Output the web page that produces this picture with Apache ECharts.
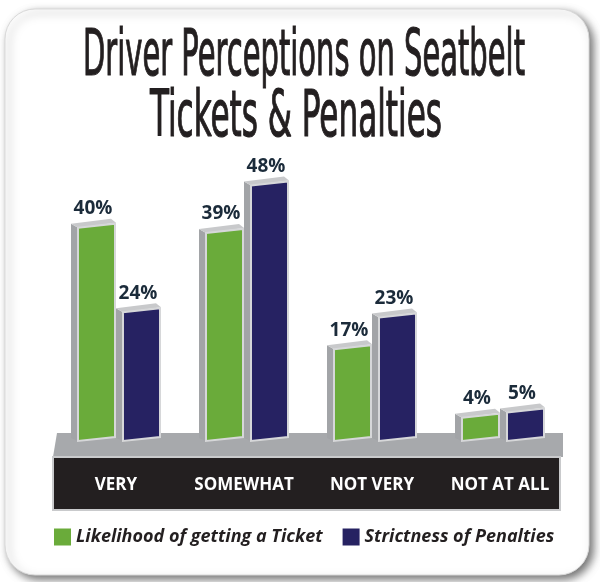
<!DOCTYPE html>
<html>
<head>
<meta charset="utf-8">
<script src="https://cdn.jsdelivr.net/npm/echarts@6/dist/echarts.min.js"></script>
<style>
  html, body { margin: 0; padding: 0; background: #fff; }
  #chart { width: 600px; height: 582px; }
</style>
</head>
<body>
<div id="chart"></div>
<script>
  // data
  var categories = ['VERY', 'SOMEWHAT', 'NOT VERY', 'NOT AT ALL'];
  var likelihood = [40, 39, 17, 4];
  var strictness = [24, 48, 23, 5];
  var seriesNames = ['Likelihood of getting a Ticket', 'Strictness of Penalties'];
  var titleLines = ['Driver Perceptions on Seatbelt', 'Tickets & Penalties'];

  var GREEN = '#6aab3a';
  var NAVY = '#262262';
  var titleFont = '64px "Liberation Sans Narrow", "DejaVu Sans Condensed", sans-serif';

  // squeeze the title into the condensed look of the original
  function fitScale(text, target) {
    var ctx = document.createElement('canvas').getContext('2d');
    ctx.font = titleFont;
    return target / ctx.measureText(text).width;
  }

  function toData(arr) {
    return arr.map(function (v, i) { return [i, v]; });
  }

  // 3d-ish bar: grey side + grey top + coloured front, label above
  function renderBar(params, api) {
    var idx = api.value(0);
    var v = api.value(1);
    var base = api.coord([idx, 0]);
    var top = api.coord([idx, v]);
    var c = base[0];
    var L = c + (params.seriesIndex === 0 ? -38 : 7);
    var R = L + 37;
    var yB = base[1], yT = top[1];
    var color = params.seriesIndex === 0 ? GREEN : NAVY;
    return {
      type: 'group',
      children: [
        { type: 'polygon', shape: { points: [[L - 7, yT - 3], [L, yT + 1], [L, yB + 3], [L - 7, yB]] },
          style: { fill: '#a2a4a7' } },
        { type: 'polygon', shape: { points: [[L - 7, yT - 3], [R - 4, yT - 8], [R + 1, yT - 4], [L, yT + 1]] },
          style: { fill: '#c8c9cb' } },
        { type: 'polygon', shape: { points: [[L, yT + 1], [R, yT - 3], [R, yB - 1], [L, yB + 3]] },
          style: { fill: color, stroke: '#d6d7d9', lineWidth: 2 } },
        { type: 'text', x: (L - 7 + R) / 2, y: yT - 18,
          style: { text: v + '%', font: 'bold 19px "Open Sans", sans-serif', fill: '#1b2b3a',
            align: 'center', verticalAlign: 'middle' } }
      ]
    };
  }

  var myChart = echarts.init(document.getElementById('chart'));
  var option = {
    backgroundColor: '#ffffff',
    animation: false,
    grid: { left: 52, right: 36, top: 121, bottom: 144 },
    graphic: [
      { type: 'rect', z: 0, shape: { x: 5, y: 9, width: 584, height: 566, r: 30 },
        style: { fill: '#fff', stroke: '#d9d9d9', lineWidth: 1, shadowBlur: 8, shadowOffsetX: 4,
          shadowOffsetY: 4, shadowColor: 'rgba(0,0,0,0.55)' } },
      { type: 'text', z: 1, x: 304, y: 58, scaleX: fitScale(titleLines[0], 442),
        style: { text: titleLines[0], font: titleFont, fill: '#231f20', stroke: '#231f20', lineWidth: 1.2,
          align: 'center', verticalAlign: 'middle' } },
      { type: 'text', z: 1, x: 296, y: 119, scaleX: fitScale(titleLines[1], 292),
        style: { text: titleLines[1], font: titleFont, fill: '#231f20', stroke: '#231f20', lineWidth: 1.2,
          align: 'center', verticalAlign: 'middle' } },
      { type: 'polygon', z: 1, shape: { points: [[57, 433], [563, 433], [563, 457], [53, 457]] },
        style: { fill: '#a7a9ac' } },
      { type: 'rect', z: 1, shape: { x: 53, y: 457, width: 507, height: 53 },
        style: { fill: '#231f20', stroke: '#c9cacc', lineWidth: 2 } }
    ],
    legend: {
      data: seriesNames,
      left: 54,
      top: 528,
      padding: 0,
      icon: 'rect',
      itemWidth: 17,
      itemHeight: 17,
      itemGap: 20,
      textStyle: { fontFamily: '"Open Sans", sans-serif', fontStyle: 'italic', fontWeight: 'bold',
        fontSize: 18, color: '#231f20' }
    },
    xAxis: {
      type: 'category',
      data: categories,
      z: 10,
      axisLine: { show: false },
      axisTick: { show: false },
      axisLabel: { interval: 0, color: '#ffffff', fontFamily: '"Open Sans", sans-serif', fontWeight: 'bold',
        fontSize: 17, margin: 47, verticalAlign: 'middle' }
    },
    yAxis: { type: 'value', min: 0, max: 60, show: false },
    series: [
      { name: seriesNames[0], type: 'custom', z: 5, renderItem: renderBar, itemStyle: { color: GREEN },
        encode: { x: 0, y: 1 }, data: toData(likelihood) },
      { name: seriesNames[1], type: 'custom', z: 5, renderItem: renderBar, itemStyle: { color: NAVY },
        encode: { x: 0, y: 1 }, data: toData(strictness) }
    ]
  };
  myChart.setOption(option);
</script>
</body>
</html>
